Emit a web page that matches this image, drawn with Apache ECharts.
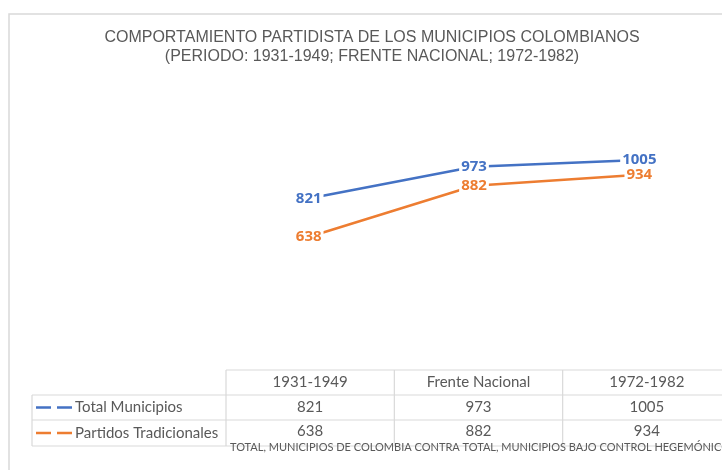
<!DOCTYPE html>
<html>
<head>
<meta charset="utf-8">
<script src="https://cdn.jsdelivr.net/npm/echarts@6/dist/echarts.min.js"></script>
<style>
  html, body { margin: 0; padding: 0; background: #fff; }
  #chart { width: 722px; height: 470px; }
</style>
</head>
<body>
<div id="chart"></div>
<script>
var categories = ['1931-1949', 'Frente Nacional', '1972-1982'];
var totalMunicipios = [821, 973, 1005];
var partidosTradicionales = [638, 882, 934];
var seriesNames = ['Total Municipios', 'Partidos Tradicionales'];
var seriesColors = ['#4472C4', '#ED7D31'];
var titleLines = ['COMPORTAMIENTO PARTIDISTA DE LOS MUNICIPIOS COLOMBIANOS', '(PERIODO: 1931-1949; FRENTE NACIONAL; 1972-1982)'];
var axisTitle = 'TOTAL, MUNICIPIOS DE COLOMBIA CONTRA TOTAL, MUNICIPIOS BAJO CONTROL HEGEMÓNICO';

var gridLeft = 226, gridTop = 119, gridWidth = 505, gridBottom = 371;
var colW = gridWidth / categories.length;
var rowY = [370, 395, 420, 446];
var border = '#d9d9d9';
var txt = '#595959';
var tableFont = 'Lato';

// data table drawn as graphics, text taken from the arrays above
var g = [];
g.push({ type: 'rect', shape: { x: 9, y: 14, width: 740, height: 480 }, style: { fill: 'none', stroke: border, lineWidth: 1.5 }, silent: true });
// horizontal lines
g.push({ type: 'line', shape: { x1: gridLeft, y1: rowY[0], x2: 731, y2: rowY[0] }, style: { stroke: border, lineWidth: 1.2 } });
for (var r = 1; r < rowY.length; r++) {
  g.push({ type: 'line', shape: { x1: 32, y1: rowY[r], x2: 731, y2: rowY[r] }, style: { stroke: border, lineWidth: 1.2 } });
}
// vertical lines
g.push({ type: 'line', shape: { x1: 32, y1: rowY[1], x2: 32, y2: rowY[3] }, style: { stroke: border, lineWidth: 1.2 } });
for (var c = 0; c <= categories.length; c++) {
  var x = gridLeft + c * colW;
  g.push({ type: 'line', shape: { x1: x, y1: rowY[0], x2: x, y2: rowY[3] }, style: { stroke: border, lineWidth: 1.2 } });
}
// header texts
categories.forEach(function (cat, i) {
  g.push({ type: 'text', x: gridLeft + (i + 0.5) * colW, y: (rowY[0] + rowY[1]) / 2,
    style: { text: cat, fill: txt, font: '15px ' + tableFont, align: 'center', verticalAlign: 'middle' } });
});
// value rows
[totalMunicipios, partidosTradicionales].forEach(function (vals, s) {
  var yc = (rowY[s + 1] + rowY[s + 2]) / 2;
  g.push({ type: 'line', shape: { x1: 36, y1: yc, x2: 73, y2: yc },
    style: { stroke: seriesColors[s], lineWidth: 2.5, lineDash: [15, 6] } });
  g.push({ type: 'text', x: 75, y: yc,
    style: { text: seriesNames[s], fill: txt, font: '15px ' + tableFont, align: 'left', verticalAlign: 'middle' } });
  vals.forEach(function (v, i) {
    g.push({ type: 'text', x: gridLeft + (i + 0.5) * colW, y: yc - (s === 1 ? 2 : 0),
      style: { text: String(v), fill: txt, font: '15px ' + tableFont, align: 'center', verticalAlign: 'middle' } });
  });
});
g.push({ type: 'text', x: 230, y: 447,
  style: { text: axisTitle, fill: txt, font: '11px ' + tableFont, align: 'left', verticalAlign: 'middle' } });

var chart = echarts.init(document.getElementById('chart'));
var option = {
  backgroundColor: '#fff',
  animation: false,
  title: {
    text: titleLines.join('\n'),
    left: 372,
    textAlign: 'center',
    top: 28,
    padding: 0,
    textStyle: { fontFamily: 'Liberation Sans', fontWeight: 'normal', fontSize: 16, color: txt, lineHeight: 19 }
  },
  grid: { left: gridLeft, top: gridTop, width: gridWidth, height: gridBottom - gridTop },
  xAxis: { type: 'category', data: categories, boundaryGap: true, show: false },
  yAxis: { type: 'value', min: 0, max: 1200, show: false },
  series: [totalMunicipios, partidosTradicionales].map(function (vals, s) {
    return {
      name: seriesNames[s],
      type: 'line',
      data: vals,
      showSymbol: true,
      symbolSize: 0,
      itemStyle: { color: seriesColors[s] },
      lineStyle: { color: seriesColors[s], width: 2.5 },
      label: {
        show: true,
        position: 'inside',
        color: seriesColors[s],
        fontFamily: 'Open Sans',
        fontWeight: 'bold',
        fontSize: 15,
        backgroundColor: '#fff',
        padding: [0, 2]
      }
    };
  }),
  graphic: g
};
chart.setOption(option);
</script>
</body>
</html>
